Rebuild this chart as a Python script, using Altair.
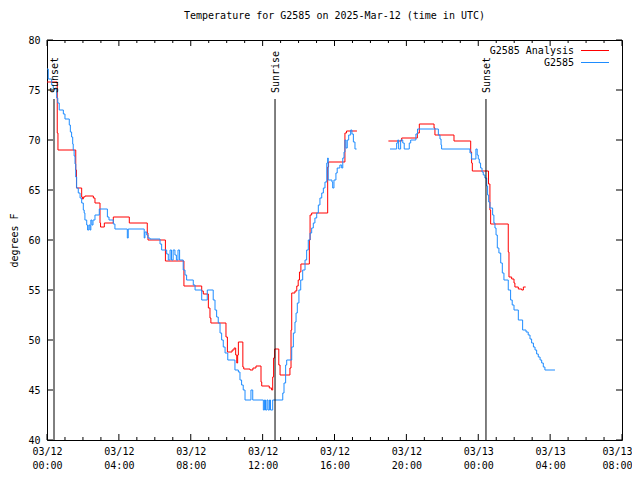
import altair as alt
import pandas as pd

title_text = "Temperature for G2585 on 2025-Mar-12 (time in UTC)"
series_names = ["G2585 Analysis", "G2585"]
series_colors = ["#ff0000", "#1e8cff"]

# hours since 2025-03-12 00:00 UTC
# observed (G2585), first and second segment
bh1 = [0.00,0.07,0.26,0.35,0.54,0.60,0.68,0.91,1.00,1.24,
       1.30,1.37,1.43,1.46,1.51,1.56,1.60,1.65,1.74,1.84,
       1.93,2.02,2.07,2.11,2.21,2.26,2.33,2.39,2.44,2.50,
       2.56,2.67,2.91,3.36,3.45,3.69,3.78,4.47,4.52,5.41,
       5.45,5.55,5.62,5.73,6.29,6.38,6.66,6.75,6.85,6.93,
       7.02,7.12,7.20,7.29,7.38,7.58,7.68,7.77,8.14,8.24,
       8.61,8.92,9.25,9.35,9.44,9.53,9.63,9.72,9.81,9.91,
       10.06,10.46,10.65,10.74,10.83,10.92,11.02,11.35,11.45,12.04,
       12.10,12.16,12.24,12.30,12.38,12.44,12.56,13.12,13.19,13.28,
       13.34,13.62,13.71,13.80,13.86,13.93,14.02,14.12,14.23,14.36,
       14.45,14.54,14.64,14.73,14.82,14.91,15.01,15.10,15.19,15.29,
       15.38,15.47,15.57,15.62,15.65,15.86,15.90,15.97,16.08,16.15,
       16.30,16.40,16.46,16.53,16.58,16.64,16.71,16.79,16.90,16.97,
       17.05,17.14,17.23]
bt1 = [77.1,76.1,75.5,75.1,74.2,73.7,73.0,72.6,72.1,71.5,
       70.8,70.3,69.6,69.0,68.4,67.6,66.3,65.2,64.7,64.2,
       63.7,63.0,62.7,62.0,61.5,61.0,61.5,61.0,62.0,61.5,
       62.0,62.5,63.1,62.3,62.0,61.6,61.1,60.2,61.1,60.2,
       60.8,60.5,60.2,60.1,59.6,59.0,58.6,58.0,59.0,58.0,
       59.0,58.5,58.0,59.0,58.0,57.0,56.5,56.0,55.5,55.0,
       54.0,55.0,54.0,53.0,52.3,51.7,50.7,50.0,49.3,48.7,
       48.0,47.0,46.8,46.0,45.5,45.0,44.0,45.0,44.0,43.0,
       44.0,43.0,44.0,43.0,44.0,43.0,44.0,44.7,45.7,47.5,
       48.0,49.3,50.7,51.8,52.7,53.7,55.0,56.0,57.0,58.0,
       59.0,60.0,60.7,61.2,61.7,62.2,62.7,63.5,64.2,64.7,
       65.2,65.8,67.7,68.2,66.0,65.8,65.2,66.0,66.7,67.2,
       67.5,67.2,68.2,68.8,70.0,69.2,70.0,70.5,71.0,70.6,
       69.8,69.1,69.1]
bh2 = [19.09,19.46,19.52,19.57,19.68,19.80,19.88,20.16,20.24,20.53,
       20.62,21.78,21.87,21.93,21.96,23.54,23.62,23.87,23.94,24.00,
       24.06,24.13,24.21,24.28,24.37,24.47,24.52,24.58,24.65,24.80,
       24.87,24.93,24.99,25.06,25.15,25.25,25.34,25.43,25.67,25.80,
       25.89,25.99,26.23,26.47,26.66,26.78,26.88,26.97,27.07,27.16,
       27.25,27.34,27.44,27.53,27.62,27.71,28.27]
bt2 = [69.1,69.7,70.0,69.1,70.0,69.7,69.1,69.7,70.0,70.6,
       71.1,70.5,70.1,69.5,69.1,68.7,68.1,69.1,68.5,68.1,
       67.7,67.2,66.8,66.5,66.2,65.4,64.5,63.8,63.2,62.5,
       61.7,61.2,60.5,59.2,58.7,57.7,56.7,56.0,55.0,54.0,
       53.5,53.0,52.0,51.0,50.8,50.5,50.1,49.7,49.3,49.0,
       48.6,48.3,48.0,47.7,47.3,47.0,47.0]

# analysis (G2585 Analysis), first and second segment
rh1 = [0.00,0.57,0.61,1.60,1.64,1.93,1.97,2.02,2.11,2.58,
       2.67,2.95,2.98,3.19,3.69,4.58,5.58,5.62,6.59,7.62,
       8.61,8.70,8.98,9.07,9.12,9.96,10.04,10.30,10.41,10.50,
       10.56,10.61,10.65,10.90,10.95,11.30,11.46,11.63,11.91,11.95,
       12.37,12.50,12.56,12.61,12.67,12.90,12.97,13.52,13.58,13.62,
       13.80,13.90,13.98,14.05,14.13,14.60,14.64,14.73,15.62,15.67,
       16.58,16.67,17.25]
rt1 = [75.8,70.7,69.0,67.0,65.2,64.3,64.1,64.3,64.4,64.2,
       63.7,61.7,61.3,61.7,62.3,61.7,60.7,60.0,57.9,55.4,
       54.9,54.6,53.2,52.2,51.7,50.3,48.8,49.0,49.2,48.5,
       47.7,48.5,49.8,47.3,47.1,47.0,47.2,47.4,45.8,45.4,
       45.2,45.0,46.3,48.2,49.1,47.5,46.5,47.2,51.0,54.7,
       54.9,55.4,56.0,56.8,57.6,60.0,62.5,62.7,67.3,67.8,
       70.7,70.9,70.9]
rh2 = [19.00,19.74,20.61,20.72,21.54,21.59,22.65,23.58,23.63,23.67,
       24.57,24.65,24.69,25.67,25.71,25.86,25.99,26.04,26.23,26.42,
       26.51,26.64]
rt2 = [69.9,70.2,70.7,71.6,71.2,70.5,69.9,68.8,67.7,66.9,
       65.6,63.0,61.6,58.8,56.3,56.1,55.7,55.3,55.1,55.0,
       55.3,55.3]

sun_hours = [0.39, 12.69, 24.43]
sun_labels = ["Sunset", "Sunrise", "Sunset"]
sun_line_top = 74.1
sun_label_at = 74.7

x_major = list(range(0, 33, 4))
x_minor = [h for h in range(0, 33) if h % 4 != 0]
y_major = list(range(40, 81, 5))

rows = []
for name, segs in [(series_names[0], [(rh1, rt1), (rh2, rt2)]),
                   (series_names[1], [(bh1, bt1), (bh2, bt2)])]:
    for i, (hs, ts) in enumerate(segs):
        for h, t in zip(hs, ts):
            rows.append({"series": name, "seg": f"{name}-{i}", "h": h, "t": t})
df = pd.DataFrame(rows)

W, H = 575, 400
FONT = "DejaVu Sans Mono"

x_scale = alt.Scale(domain=[0, 32], nice=False, zero=False)
y_scale = alt.Scale(domain=[40, 80], nice=False, zero=False)

label_expr = ("['03/' + (datum.value < 24 ? '12' : '13'), "
              "(datum.value % 24 < 10 ? '0' : '') + (datum.value % 24) + ':00']")

lines = alt.Chart(df).mark_line(interpolate="step-after", strokeWidth=1).encode(
    x=alt.X("h:Q", scale=x_scale,
            axis=alt.Axis(values=x_major, labelExpr=label_expr, title=None,
                          labelPadding=6, labelLineHeight=14, labelFlush=False,
                          labelAlign={"condition": {"test": "datum.value == 32", "value": "right"},
                                      "value": "center"},
                          labelOffset={"condition": {"test": "datum.value == 32", "value": 10},
                                       "value": 0})),
    y=alt.Y("t:Q", scale=y_scale,
            axis=alt.Axis(values=y_major, title="degrees F", labelPadding=7,
                          titlePadding=8, labelFlush=False)),
    color=alt.Color("series:N", scale=alt.Scale(domain=series_names, range=series_colors),
                    legend=None),
    detail="seg:N",
)

sun_df = pd.DataFrame({"h": sun_hours, "label": sun_labels,
                       "top": [sun_line_top] * 3, "bottom": [40] * 3,
                       "lab": [sun_label_at] * 3})
sun_rules = alt.Chart(sun_df).mark_rule(color="black", strokeWidth=1).encode(
    x=alt.X("h:Q", scale=x_scale), y=alt.Y("bottom:Q", scale=y_scale), y2="top:Q")
sun_text = alt.Chart(sun_df).mark_text(angle=270, align="left", baseline="middle", dy=1,
                                       font=FONT, fontSize=10, color="black").encode(
    x=alt.X("h:Q", scale=x_scale), y=alt.Y("lab:Q", scale=y_scale), text="label:N")

xmaj_df = pd.DataFrame({"h": x_major})
xmin_df = pd.DataFrame({"h": x_minor})
y_df = pd.DataFrame({"t": y_major})

def xticks(d, y0, y1):
    return alt.Chart(d).mark_rule(color="black", strokeWidth=1).encode(
        x=alt.X("h:Q", scale=x_scale), y=alt.value(y0), y2=alt.value(y1))

def yticks(x0, x1):
    return alt.Chart(y_df).mark_rule(color="black", strokeWidth=1).encode(
        y=alt.Y("t:Q", scale=y_scale), x=alt.value(x0), x2=alt.value(x1))

ticks = [xticks(xmaj_df, H, H - 6), xticks(xmin_df, H, H - 3),
         xticks(xmaj_df, 0, 6), xticks(xmin_df, 0, 3),
         yticks(0, 6), yticks(W - 6, W)]

legend_df = pd.DataFrame({"series": series_names})
legend_layers = []
for i, (name, col) in enumerate(zip(series_names, series_colors)):
    yy = 10.5 + 12 * i
    one = legend_df[legend_df["series"] == name]
    legend_layers.append(alt.Chart(one).mark_text(align="right", baseline="middle",
                                                  font=FONT, fontSize=10, color="black").encode(
        x=alt.value(527), y=alt.value(yy), text="series:N"))
    legend_layers.append(alt.Chart(one).mark_rule(color=col, strokeWidth=1).encode(
        x=alt.value(534), x2=alt.value(562), y=alt.value(yy)))

chart = alt.layer(lines, sun_rules, sun_text, *ticks, *legend_layers).properties(
    width=W, height=H,
    title=alt.TitleParams(title_text, font=FONT, fontSize=10, fontWeight="normal",
                          color="black", offset=14, anchor="middle"),
    padding={"left": 39, "top": 32, "right": 10, "bottom": 31},
    autosize=alt.AutoSizeParams(type="none"),
).configure_view(stroke="black", strokeWidth=1).configure_axis(
    labelFont=FONT, labelFontSize=10, labelColor="black",
    titleFont=FONT, titleFontSize=10, titleFontWeight="normal", titleColor="black",
    domain=False, ticks=False, grid=False,
)

chart.save("out.html", embed_options={"renderer": "svg", "actions": False})
